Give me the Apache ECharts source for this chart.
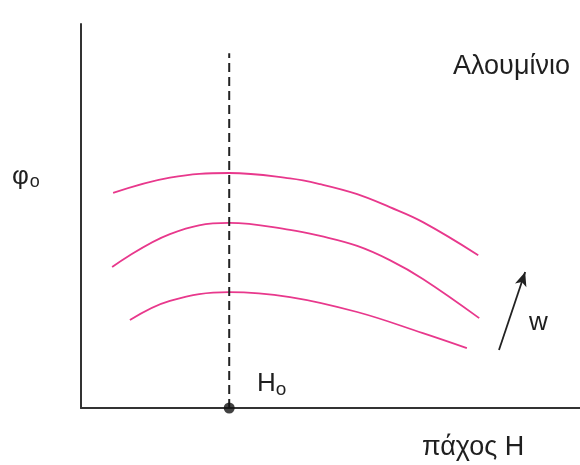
<!DOCTYPE html>
<html>
<head>
<meta charset="utf-8">
<script src="https://cdn.jsdelivr.net/npm/echarts@6/dist/echarts.min.js"></script>
<style>
  html, body { margin: 0; padding: 0; background: #fff; }
  #chart { width: 580px; height: 465px; }
</style>
</head>
<body>
<div id="chart"></div>
<script>
// Thickness H (x) against φo (y), three curves for increasing w
const curveTop = [[0.65, 5.60], [1.80, 6.00], [3.0, 6.12], [4.23, 5.98], [4.84, 5.83], [5.59, 5.57], [6.25, 5.23], [6.92, 4.84], [8.04, 3.98]];
const curveMid = [[0.63, 3.67], [1.80, 4.53], [3.0, 4.82], [4.23, 4.64], [4.84, 4.48], [5.59, 4.22], [6.25, 3.85], [6.92, 3.36], [8.06, 2.34]];
const curveLow = [[0.99, 2.29], [1.80, 2.79], [3.0, 3.02], [4.23, 2.89], [5.59, 2.50], [6.92, 1.95], [7.81, 1.56]];

// optimum thickness Ho and the height of its guide line
const hOpt = 3.0;
const guideTop = 9.24;

// direction of increasing w
const wArrow = [[8.46, 1.51], [8.99, 3.54]];

const ink = '#1f1f1f';
const pink = '#e8388c';
const font = "'Liberation Sans', Arial, sans-serif";

const chart = echarts.init(document.getElementById('chart'));

function curve(data) {
  return {
    type: 'line',
    data: data,
    smooth: 0.4,
    symbol: 'none',
    lineStyle: { color: pink, width: 1.8 },
    silent: true
  };
}

chart.setOption({
  animation: false,
  grid: { left: 81, right: 0, top: 24, bottom: 57 },
  xAxis: {
    type: 'value', min: 0, max: 10.1,
    axisLine: { show: true, lineStyle: { color: '#333', width: 2 } },
    axisTick: { show: false }, axisLabel: { show: false }, splitLine: { show: false }
  },
  yAxis: {
    type: 'value', min: 0, max: 10,
    axisLine: { show: true, lineStyle: { color: '#333', width: 2 } },
    axisTick: { show: false }, axisLabel: { show: false }, splitLine: { show: false }
  },
  series: [
    curve(curveTop),
    curve(curveMid),
    curve(curveLow),
    {
      type: 'line',
      data: [[hOpt, 0], [hOpt, guideTop]],
      symbol: 'none',
      lineStyle: { color: '#222', width: 2, type: [9, 5] },
      silent: true,
      z: 3
    },
    {
      type: 'scatter',
      data: [[hOpt, 0]],
      symbolSize: 11,
      itemStyle: { color: '#111' },
      clip: false,
      z: 5
    },
    {
      type: 'line',
      data: [],
      silent: true,
      markLine: {
        silent: true,
        symbol: ['none', 'arrow'],
        symbolSize: [9, 14],
        label: { show: false },
        lineStyle: { color: '#222', width: 1.8, type: 'solid' },
        data: [[{ coord: wArrow[0] }, { coord: wArrow[1] }]]
      }
    }
  ],
  graphic: [
    {
      type: 'text', left: 12, top: 164,
      style: {
        text: '{a|φ}{b|o}',
        rich: {
          a: { fontSize: 26, fontFamily: font, fill: ink },
          b: { fontSize: 18, fontFamily: font, fill: ink, padding: [10, 0, 0, 1] }
        }
      }
    },
    {
      type: 'text', left: 257, top: 371,
      style: {
        text: '{a|H}{b|o}',
        rich: {
          a: { fontSize: 26, fontFamily: font, fill: ink },
          b: { fontSize: 19, fontFamily: font, fill: ink, padding: [12, 0, 0, 0] }
        }
      }
    },
    {
      type: 'text', left: 453, top: 53,
      style: { text: 'Αλουμίνιο', fontSize: 27, fontFamily: font, fill: ink }
    },
    {
      type: 'text', left: 422, top: 434,
      style: { text: 'πάχος Η', fontSize: 27, fontFamily: font, fill: ink }
    },
    {
      type: 'text', left: 529, top: 310,
      style: { text: 'w', fontSize: 26, fontFamily: font, fill: ink }
    }
  ]
});
</script>
</body>
</html>
